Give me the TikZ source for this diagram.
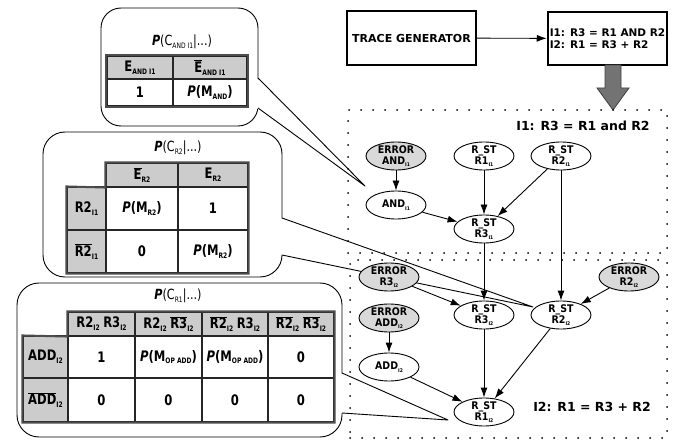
\documentclass[tikz,border=0pt]{standalone}
\usepackage{fontspec}
\setmainfont{DejaVu Sans}
\newfontfamily\tabfont[FakeStretch=0.8]{DejaVu Sans}
\newfontfamily\gfont[FakeStretch=0.9]{DejaVu Sans}
\usetikzlibrary{shapes.geometric,arrows.meta}
\newcommand\tsub[1]{\raisebox{-2.8pt}{\fontsize{7.5}{7.5}\selectfont #1}}
\newcommand\gsub[1]{\raisebox{-2.5pt}{\fontsize{5}{5}\selectfont #1}}
\newcommand\obar[1]{$\overline{\hbox{#1}}$}
\newcommand\bP{{\bfseries\itshape P}}
\newcommand\hsp{\hspace{3.5pt}}
\newcommand\tcell[7]{\node[#1, minimum width={(#4)-(#2)}, minimum height={(#5)-(#3)}] (#6) at ({((#2)+(#4))/2},{((#3)+(#5))/2}) {#7};}
\begin{document}
\begin{tikzpicture}[x=1pt,y=-1pt,
  bubble/.style={draw, line width=0.9pt, fill=white, rounded corners=20pt, inner sep=0pt},
  tailline/.style={line width=0.9pt, line join=round},
  cell/.style={draw=black!85, line width=1.1pt, inner sep=0pt, fill=white,
    font=\tabfont\bfseries\fontsize{14.5}{15}\selectfont},
  hcell/.style={cell, fill=black!20},
  outline/.style={draw=black!70, line width=2pt},
  ttl/.style={font=\tabfont\fontsize{14}{15}\selectfont, inner sep=0pt},
  gnode/.style={ellipse, draw, line width=0.9pt, minimum width=60pt, minimum height=28pt,
    inner sep=-1.5pt, align=center, fill=white,
    font=\gfont\bfseries\fontsize{10.5}{11}\selectfont},
  enode/.style={gnode, fill=black!15},
  edge/.style={-{Latex[length=10pt,width=7pt]}, line width=0.9pt},
  dotbox/.style={draw, line width=2pt, line cap=round, dash pattern=on 0pt off 12pt, inner sep=0pt},
  bigbox/.style={draw, line width=2pt, inner sep=2pt}
]
\useasboundingbox (0,0) rectangle (678,441);

% ---------- callout bubbles ----------
\node[bubble, minimum width=157pt, minimum height=118pt] (bubA) at (179.5,67) {};
\coordinate (a1) at (258,78); \coordinate (a2) at (258,108); \coordinate (tipA) at (365,186);
\fill[white] (256.5,78) -- (tipA) -- (256.5,108) -- cycle;
\draw[tailline] (a1) -- (tipA) -- (a2);

\node[bubble, rounded corners=22pt, minimum width=239pt, minimum height=145pt] (bubB) at (162.5,204.5) {};
\coordinate (b1) at (282,218); \coordinate (b2) at (282,255); \coordinate (tipB) at (533,307);
\fill[white] (280.5,218) -- (tipB) -- (280.5,255) -- cycle;
\draw[tailline] (b1) -- (tipB) -- (b2);

\node[bubble, rounded corners=22pt, minimum width=325pt, minimum height=154pt] (bubC) at (179.5,360) {};
\coordinate (c1) at (342,373); \coordinate (c2) at (342,413); \coordinate (tipC) at (448,420);
\fill[white] (340.5,373) -- (tipC) -- (340.5,413) -- cycle;
\draw[tailline] (c1) -- (tipC) -- (c2);

% ---------- table A ----------
\node[ttl] (ttlA) at (182,42) {\bP(C\tsub{AND I1}|...)};
\tcell{hcell}{107}{56}{173}{79}{a11}{E\tsub{AND I1}}
\tcell{hcell}{173}{56}{247}{79}{a12}{\obar{E}\tsub{AND I1}}
\tcell{cell}{107}{79}{173}{106}{a21}{1}
\tcell{cell}{173}{79}{247}{106}{a22}{\bP(M\tsub{AND})}
\draw[outline] (a11.north west) rectangle (a22.south east);

% ---------- table B ----------
\node[ttl] (ttlB) at (178,148) {\bP(C\tsub{R2}|...)};
\tcell{hcell}{106}{163}{178}{187}{b01}{\obar{E}\tsub{R2}}
\tcell{hcell}{178}{163}{248}{187}{b02}{E\tsub{R2}}
\tcell{hcell}{67}{187}{106}{230}{b10}{R2\tsub{I1}}
\tcell{cell}{106}{187}{178}{230}{b11}{\bP(M\tsub{R2})}
\tcell{cell}{178}{187}{248}{230}{b12}{1}
\tcell{hcell}{67}{230}{106}{273}{b20}{\obar{R2}\tsub{I1}}
\tcell{cell}{106}{230}{178}{273}{b21}{0}
\tcell{cell}{178}{230}{248}{273}{b22}{\bP(M\tsub{R2})}
\draw[outline] (b01.north west) -- (b02.north east) -- (b22.south east) -- (b20.south west)
  -- (b10.north west) -- (b01.south west) -- cycle;

% ---------- table C ----------
\node[ttl] (ttlC) at (178,296) {\bP(C\tsub{R1}|...)};
\tcell{hcell}{68}{312}{135}{336}{c01}{R2\tsub{I2}\hsp R3\tsub{I2}}
\tcell{hcell}{135}{312}{202}{336}{c02}{R2\tsub{I2}\hsp\obar{R3}\tsub{I2}}
\tcell{hcell}{202}{312}{268}{336}{c03}{\obar{R2}\tsub{I2}\hsp R3\tsub{I2}}
\tcell{hcell}{268}{312}{334}{336}{c04}{\obar{R2}\tsub{I2}\hsp\obar{R3}\tsub{I2}}
\tcell{hcell}{23}{336}{68}{378}{c10}{ADD\tsub{I2}}
\tcell{cell}{68}{336}{135}{378}{c11}{1}
\tcell{cell}{135}{336}{202}{378}{c12}{\bP(M\tsub{OP ADD})}
\tcell{cell}{202}{336}{268}{378}{c13}{\bP(M\tsub{OP ADD})}
\tcell{cell}{268}{336}{334}{378}{c14}{0}
\tcell{hcell}{23}{378}{68}{422}{c20}{\obar{ADD}\tsub{I2}}
\tcell{cell}{68}{378}{135}{422}{c21}{0}
\tcell{cell}{135}{378}{202}{422}{c22}{0}
\tcell{cell}{202}{378}{268}{422}{c23}{0}
\tcell{cell}{268}{378}{334}{422}{c24}{0}
\draw[outline] (c01.north west) -- (c04.north east) -- (c24.south east) -- (c20.south west)
  -- (c10.north west) -- (c01.south west) -- cycle;

% ---------- top boxes ----------
\node[bigbox, minimum width=129pt, minimum height=54pt, font=\bfseries\fontsize{11}{13}\selectfont] (tg) at (411.5,38) {TRACE GENERATOR};
\node[bigbox, minimum width=119pt, minimum height=53pt, align=left, font=\bfseries\fontsize{10.5}{11.5}\selectfont] (ins) at (607.5,38.5) {I1: R3 = R1 AND R2\\I2: R1 = R3 + R2};
\draw[edge] (tg) -- (ins);
\draw[fill=black!55, draw=black!75, line width=0.8pt, line join=miter]
  (605,65) -- (621,65) -- (621,88) -- (629,88) -- (613,110) -- (597,88) -- (605,88) -- cycle;

% ---------- dotted boxes ----------
\node[dotbox, minimum width=319pt, minimum height=143pt] (box1) at (507.5,181.5) {};
\node[dotbox, minimum width=317pt, minimum height=178pt] (box2) at (508.5,349) {};

% ---------- graph I1 ----------
\node[enode] (errAnd) at (396,156) {ERROR\\AND\gsub{I1}};
\node[gnode] (rst1a) at (484,156) {R\_ST\\R1\gsub{I1}};
\node[gnode] (rst2a) at (561,156) {R\_ST\\R2\gsub{I1}};
\node[gnode] (and1) at (396,205) {AND\gsub{I1}};
\node[gnode] (rst3a) at (484,229) {R\_ST\\R3\gsub{I1}};
\node[font=\bfseries\fontsize{12.5}{14}\selectfont, inner sep=0pt] (lab1) at (583,126) {I1: R3 = R1 and R2};

% ---------- graph I2 ----------
\node[enode] (errR3) at (389,277) {ERROR\\R3\gsub{I2}};
\node[enode] (errR2) at (629,277) {ERROR\\R2\gsub{I2}};
\node[gnode] (rst3b) at (484,315) {R\_ST\\R3\gsub{I2}};
\node[gnode] (rst2b) at (561,315) {R\_ST\\R2\gsub{I2}};
\node[enode] (errAdd) at (389,318) {ERROR\\ADD\gsub{I2}};
\node[gnode] (add2) at (389,367) {ADD\gsub{I2}};
\node[gnode] (rst1b) at (484,412) {R\_ST\\R1\gsub{I2}};
\node[font=\bfseries\fontsize{12.5}{14}\selectfont, inner sep=0pt] (lab2) at (592,407) {I2: R1 = R3 + R2};

% ---------- edges ----------
\draw[edge] (errAnd) -- (and1);
\draw[edge] (and1) -- (rst3a);
\draw[edge] (rst1a) -- (rst3a);
\draw[edge] (rst2a) -- (rst3a);
\draw[edge] (rst2a) -- (rst2b);
\draw[edge] (rst3a) -- (rst3b);
\draw[edge] (errR3) -- (rst3b);
\draw[edge] (errR2) -- (rst2b);
\draw[edge] (errAdd) -- (add2);
\draw[edge] (add2) -- (rst1b);
\draw[edge] (rst3b) -- (rst1b);
\draw[edge] (rst2b) -- (rst1b);
\end{tikzpicture}
\end{document}
